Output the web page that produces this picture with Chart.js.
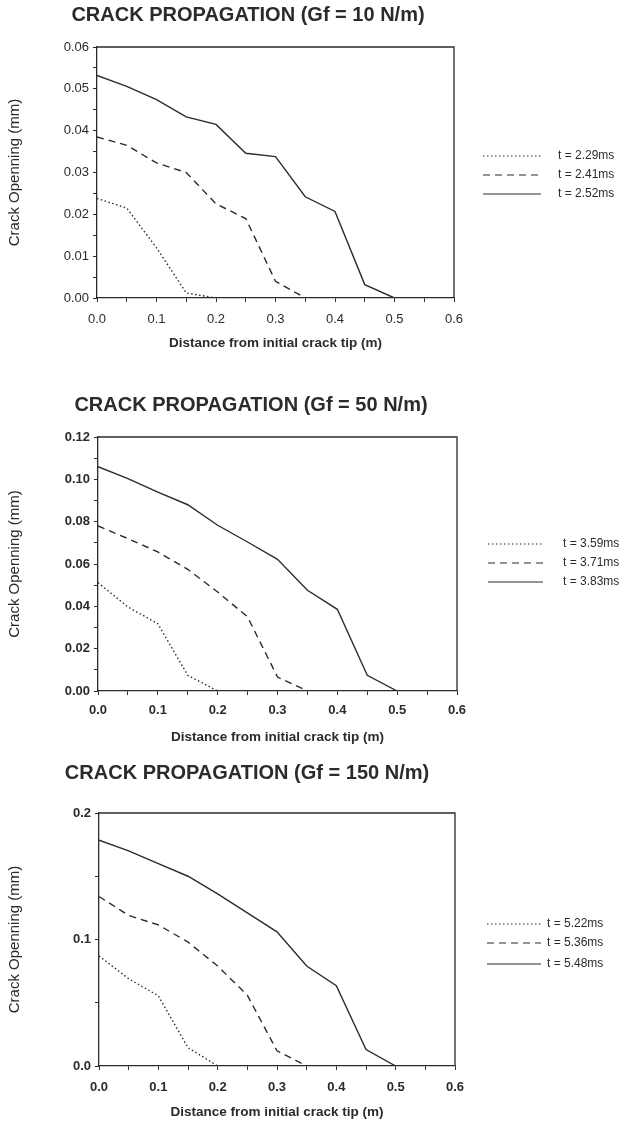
<!DOCTYPE html>
<html>
<head>
<meta charset="utf-8">
<script src="https://cdn.jsdelivr.net/npm/chart.js@4/dist/chart.umd.min.js"></script>
<style>
  body { margin: 0; background: #fff; }
  .page { position: relative; width: 625px; height: 1123px; }
  .box { position: absolute; left: 0; width: 625px; }
</style>
</head>
<body>
<div class="page">
  <div class="box" style="top:0;height:351px"><canvas id="gf10"></canvas></div>
  <div class="box" style="top:360px;height:385px"><canvas id="gf50"></canvas></div>
  <div class="box" style="top:740px;height:383px"><canvas id="gf150"></canvas></div>
</div>
<script>
// distance from initial crack tip (m)
const xDist = [0, 0.05, 0.1, 0.15, 0.2, 0.25, 0.3, 0.35, 0.4, 0.45, 0.5, 0.55, 0.6]

// Gf = 10 N/m
const gf10Times = ['t = 2.29ms', 't = 2.41ms', 't = 2.52ms']
const gf10Early = [0.0238, 0.0215, 0.012, 0.0012, 0, 0, 0, 0, 0, 0, 0, 0, 0]
const gf10Mid = [0.0385, 0.0365, 0.0323, 0.030, 0.0225, 0.019, 0.004, 0, 0, 0, 0, 0, 0]
const gf10Late = [0.0532, 0.0506, 0.0474, 0.0433, 0.0415, 0.0346, 0.0338, 0.0242, 0.0207, 0.0032, 0, 0, 0]

// Gf = 50 N/m
const gf50Times = ['t = 3.59ms', 't = 3.71ms', 't = 3.83ms']
const gf50Early = [0.0512, 0.0397, 0.0318, 0.0074, 0, 0, 0, 0, 0, 0, 0, 0, 0]
const gf50Mid = [0.078, 0.072, 0.0657, 0.0575, 0.0468, 0.035, 0.0066, 0, 0, 0, 0, 0, 0]
const gf50Late = [0.106, 0.1003, 0.094, 0.088, 0.0783, 0.0704, 0.0622, 0.0476, 0.0386, 0.0074, 0, 0, 0]

// Gf = 150 N/m
const gf150Times = ['t = 5.22ms', 't = 5.36ms', 't = 5.48ms']
const gf150Early = [0.087, 0.069, 0.0555, 0.0145, 0, 0, 0, 0, 0, 0, 0, 0, 0]
const gf150Mid = [0.134, 0.119, 0.1115, 0.098, 0.079, 0.056, 0.012, 0, 0, 0, 0, 0, 0]
const gf150Late = [0.1785, 0.170, 0.160, 0.150, 0.136, 0.121, 0.106, 0.079, 0.0635, 0.013, 0, 0, 0]

const ink = '#2b2b2b'
const fontFam = "'Liberation Sans', Arial, Helvetica, sans-serif"
const styles = [[1.5, 2.5], [7, 5], []]

// frame on top and right of the plot
const framePlugin = {
  id: 'frame',
  afterDraw(chart) {
    const a = chart.chartArea
    const ctx = chart.ctx
    ctx.save()
    ctx.strokeStyle = ink
    ctx.lineWidth = 1.3
    ctx.beginPath()
    ctx.moveTo(a.left, a.top)
    ctx.lineTo(a.right, a.top)
    ctx.lineTo(a.right, a.bottom)
    ctx.stroke()
    ctx.restore()
  }
}

// heading + legend drawn at fixed spots
const sidePlugin = {
  id: 'side',
  afterDraw(chart, args, opts) {
    const ctx = chart.ctx
    ctx.save()
    ctx.fillStyle = ink
    ctx.font = 'bold 20px ' + fontFam
    ctx.textAlign = 'center'
    ctx.textBaseline = 'middle'
    ctx.fillText(opts.title, opts.titleX, opts.titleY)

    ctx.font = '12px ' + fontFam
    ctx.textAlign = 'left'
    chart.data.datasets.forEach((ds, i) => {
      const y = opts.ys[i]
      ctx.strokeStyle = ink
      ctx.lineWidth = 1.2
      ctx.setLineDash(ds.borderDash || [])
      ctx.beginPath()
      ctx.moveTo(opts.x1, y)
      ctx.lineTo(opts.x2, y)
      ctx.stroke()
      ctx.setLineDash([])
      ctx.fillText(ds.label, opts.tx, y)
    })
    ctx.restore()
  }
}

function makeChart(id, cfg) {
  const datasets = cfg.series.map((vals, i) => ({
    label: cfg.times[i],
    data: vals.map((v, j) => ({ x: xDist[j], y: v })),
    borderColor: ink,
    borderWidth: 1.4,
    borderDash: styles[i],
    pointRadius: 0,
    tension: 0,
    fill: false
  }))

  const tickFont = { family: fontFam, size: 13, weight: cfg.tickBold ? 'bold' : 'normal' }

  return new Chart(document.getElementById(id), {
    type: 'line',
    data: { datasets: datasets },
    plugins: [framePlugin, sidePlugin],
    options: {
      responsive: true,
      maintainAspectRatio: false,
      animation: false,
      layout: { padding: { left: 0, top: cfg.top, right: 625 - cfg.right, bottom: cfg.bottomPad } },
      scales: {
        x: {
          type: 'linear',
          min: 0, max: 0.6,
          afterFit: s => { s.height = cfg.xHeight },
          ticks: {
            stepSize: 0.05,
            color: ink,
            padding: cfg.xTickPad,
            maxRotation: 0,
            autoSkip: false,
            font: tickFont,
            callback: v => (Math.round(v * 100) % 10 === 0 ? v.toFixed(1) : '')
          },
          grid: { drawOnChartArea: false, color: ink, tickLength: 4 },
          border: { color: ink, width: 1.3 },
          title: {
            display: true,
            text: 'Distance from initial crack tip (m)',
            color: ink,
            padding: { top: 0, bottom: 0 },
            font: { family: fontFam, size: 13.5, weight: 'bold' }
          }
        },
        y: {
          min: 0, max: cfg.yMax,
          afterFit: s => { s.width = cfg.left },
          ticks: {
            stepSize: cfg.yMinor,
            color: ink,
            padding: 4,
            autoSkip: false,
            font: tickFont,
            callback: v => {
              const k = Math.round(v / cfg.yMinor)
              return k % 2 === 0 ? v.toFixed(cfg.yDigits) : ''
            }
          },
          grid: { drawOnChartArea: false, color: ink, tickLength: 4 },
          border: { color: ink, width: 1.3 },
          title: {
            display: true,
            text: 'Crack Openning (mm)',
            color: ink,
            padding: { top: 6, bottom: 0 },
            font: { family: fontFam, size: 15 }
          }
        }
      },
      plugins: {
        legend: { display: false },
        tooltip: { enabled: false },
        side: cfg.side
      }
    }
  })
}

makeChart('gf10', {
  series: [gf10Early, gf10Mid, gf10Late],
  times: gf10Times,
  top: 47, right: 454, left: 97, bottomPad: 0, xHeight: 53, xTickPad: 10,
  yMax: 0.06, yMinor: 0.005, yDigits: 2, tickBold: false,
  side: { title: 'CRACK PROPAGATION (Gf = 10 N/m)', titleX: 248, titleY: 15,
          x1: 483, x2: 541, tx: 558, ys: [156, 175, 194] }
})

makeChart('gf50', {
  series: [gf50Early, gf50Mid, gf50Late],
  times: gf50Times,
  top: 77, right: 457, left: 98, bottomPad: 0, xHeight: 54, xTickPad: 8,
  yMax: 0.12, yMinor: 0.01, yDigits: 2, tickBold: true,
  side: { title: 'CRACK PROPAGATION (Gf = 50 N/m)', titleX: 251, titleY: 45,
          x1: 488, x2: 543, tx: 563, ys: [184, 203, 222] }
})

makeChart('gf150', {
  series: [gf150Early, gf150Mid, gf150Late],
  times: gf150Times,
  top: 73, right: 455, left: 99, bottomPad: 3, xHeight: 54, xTickPad: 10,
  yMax: 0.2, yMinor: 0.05, yDigits: 1, tickBold: true,
  side: { title: 'CRACK PROPAGATION (Gf = 150 N/m)', titleX: 247, titleY: 33,
          x1: 487, x2: 541, tx: 547, ys: [184, 203, 224] }
})
</script>
</body>
</html>
